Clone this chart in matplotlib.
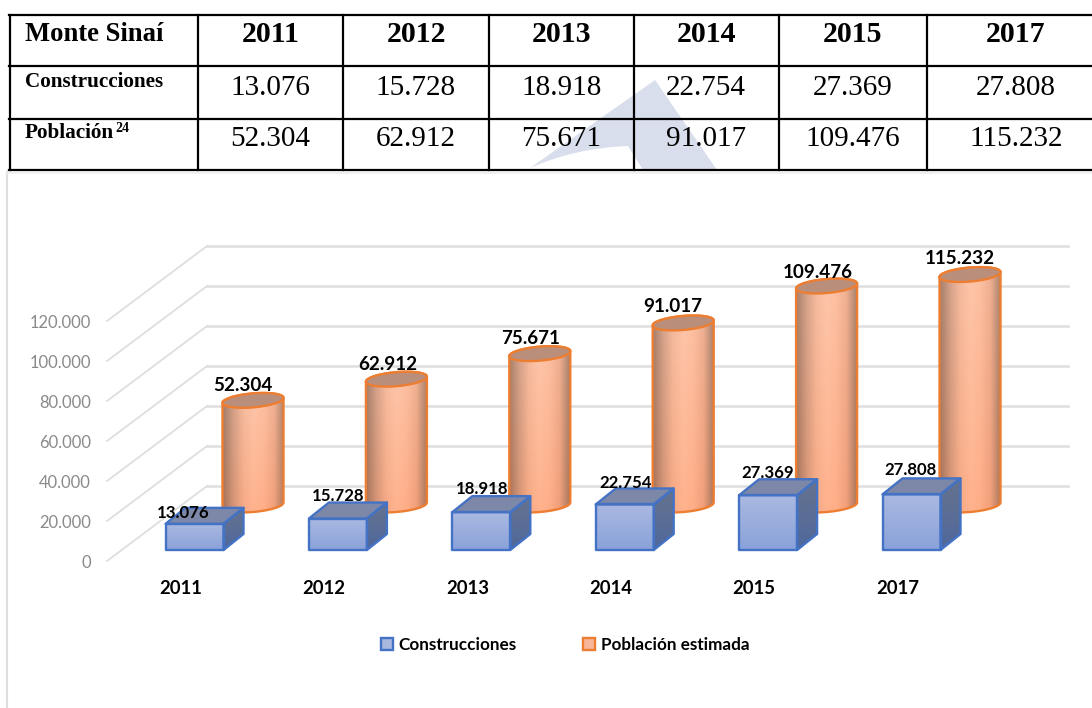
import numpy as np
import matplotlib
matplotlib.use('Agg')
import matplotlib.pyplot as plt
from matplotlib.patches import Polygon, Patch, PathPatch
from matplotlib.path import Path
from matplotlib.colors import LinearSegmentedColormap

# data
years = ['2011', '2012', '2013', '2014', '2015', '2017']
construcciones = [13076, 15728, 18918, 22754, 27369, 27808]
poblacion = [52304, 62912, 75671, 91017, 109476, 115232]
construcciones_txt = ['13.076', '15.728', '18.918', '22.754', '27.369', '27.808']
poblacion_txt = ['52.304', '62.912', '75.671', '91.017', '109.476', '115.232']
y_ticks = [0, 20000, 40000, 60000, 80000, 100000, 120000]
y_tick_labels = ['0', '20.000', '40.000', '60.000', '80.000', '100.000', '120.000']

# label nudges in pixels (x, y up)
box_label_nudge = [(-11, 11), (0, 23), (1, 23), (1, 21), (0, 22), (-1, 24)]
cyl_label_nudge = [(-10, 15), (-9, 15), (-9, 15), (-10, 16), (-9, 14), (-10, 16)]

W, H = 1092, 708
cat_px = 143.4      # pixels between categories
val_px = 0.002      # pixels per unit of value
x0_px = 194.5       # centre of the first box
y0_px = 561         # value 0 on the front of the floor

fig = plt.figure(figsize=(W / 100, H / 100), dpi=100, facecolor='white')

# chart axes: x is the category number, y is the value
ax = fig.add_axes([0, 0, 1, 1])
ax.axis('off')


def px_x(p):
    return p / cat_px


def px_y(p):
    return p / val_px


xlim = (-x0_px / cat_px, (W - x0_px) / cat_px)
ylim = (-(H - y0_px) / val_px, y0_px / val_px)

# walls
grid = '#dedede'
wall_left = px_x(107) + xlim[0]
wall_back = px_x(207) + xlim[0]
wall_right = px_x(1068) + xlim[0]
for t, lab in zip(y_ticks, y_tick_labels):
    ax.plot([wall_left, wall_back], [t, t + px_y(75)], color=grid, lw=1.3, zorder=1)
    ax.plot([wall_back, wall_right], [t + px_y(75), t + px_y(75)], color=grid, lw=1.8, zorder=1)
    ax.text(px_x(91) + xlim[0], t - px_y(2.5), lab, ha='right', va='center',
            fontsize=11.9, color='#8a8a8a', family='Lato')

# colours for the shaded faces
cyl_cmap = LinearSegmentedColormap.from_list(
    'cyl', ['#a5806c', '#d4a38c', '#f5bca0', '#fdc6ab', '#fcc0a3', '#eeb093', '#a8836f'])
front_cmap = LinearSegmentedColormap.from_list('front', ['#8aa2da', '#aab9e1'])
side_cmap = LinearSegmentedColormap.from_list('side', ['#4f689c', '#66738f'])


def clip_image(img, patch, extent, z, cmap=None):
    # gradient image clipped to a patch
    im = ax.imshow(img, cmap=cmap, extent=extent, origin='lower', aspect='auto',
                   interpolation='bilinear', zorder=z, vmin=0, vmax=1)
    patch.set_transform(ax.transData)
    im.set_clip_path(patch)


def cylinder(i, v):
    cx = i + px_x(58.5)
    base = px_y(56)
    a, b, tilt = px_x(30.5), px_y(7), px_y(2.5)
    z = 3 + i * 0.1
    t = np.linspace(0, 2 * np.pi, 91)
    top_x = cx + a * np.cos(t)
    top_y = base + v + b * np.sin(t) + tilt * np.cos(t)
    low = np.linspace(0, np.pi, 46)
    bot_x = cx + a * np.cos(low)
    bot_y = base - b * np.sin(low) + tilt * np.cos(low)
    # body goes along the lower edge and back over the top ellipse
    up = np.linspace(np.pi, 0, 46)
    body_x = np.r_[bot_x, cx + a * np.cos(up)]
    body_y = np.r_[bot_y, base + v + b * np.sin(up) + tilt * np.cos(up)]
    body = Polygon(np.c_[body_x, body_y], closed=True, facecolor='none',
                   edgecolor='#ed7d31', lw=1.7, zorder=z + 0.02, joinstyle='round')
    clip = Polygon(np.c_[body_x, body_y], closed=True)
    # side shading across, warmer towards the floor
    across = cyl_cmap(np.linspace(0, 1, 128))[:, :3]
    warm = np.linspace(1, 0, 64).reshape(-1, 1, 1)
    img = np.repeat(across[None, :, :], 64, axis=0)
    img = img * (1 - warm * np.array([-0.01, 0.10, 0.18]))
    clip_image(np.clip(img, 0, 1), clip, (cx - a, cx + a, base - 2 * b, base + v + 2 * b), z)
    ax.add_patch(body)
    ax.add_patch(Polygon(np.c_[top_x, top_y], closed=True, facecolor='#b98f7c',
                         edgecolor='#ed7d31', lw=1.7, zorder=z + 0.03))


def box(i, v):
    w = px_x(29)
    floor = px_y(11)
    dx, dy = px_x(20), px_y(16)
    z = 5 + i * 0.1
    top = floor + v
    front = [(i - w, floor), (i + w, floor), (i + w, top), (i - w, top)]
    side = [(i + w, floor), (i + w + dx, floor + dy), (i + w + dx, top + dy), (i + w, top)]
    lid = [(i - w, top), (i + w, top), (i + w + dx, top + dy), (i - w + dx, top + dy)]
    ramp = np.linspace(0, 1, 64).reshape(-1, 1)
    clip_image(ramp, Polygon(front, closed=True), (i - w, i + w, floor, top), z, front_cmap)
    clip_image(ramp, Polygon(side, closed=True), (i + w, i + w + dx, floor, top + dy), z, side_cmap)
    ax.add_patch(Polygon(lid, closed=True, facecolor='#7d88a8', edgecolor='none', zorder=z))
    for pts in (front, side, lid):
        ax.add_patch(Polygon(pts, closed=True, facecolor='none', edgecolor='#4472c4',
                             lw=1.7, zorder=z + 0.02, joinstyle='round'))


for i in range(len(years)):
    cylinder(i, poblacion[i])
for i in range(len(years)):
    box(i, construcciones[i])

# data labels
for i in range(len(years)):
    nx, ny = box_label_nudge[i]
    ax.text(i + px_x(nx), px_y(11) + construcciones[i] + px_y(ny), construcciones_txt[i],
            ha='center', va='center', fontsize=12.1, fontweight='bold', family='Lato',
            color='black', zorder=10)
    nx, ny = cyl_label_nudge[i]
    ax.text(i + px_x(58.5 + nx), px_y(56) + poblacion[i] + px_y(ny), poblacion_txt[i],
            ha='center', va='center', fontsize=13.6, fontweight='bold', family='Lato',
            color='black', zorder=10)
    # category labels
    ax.text(i - px_x(14), -px_y(27), years[i], ha='center', va='center', fontsize=13.3,
            fontweight='bold', family='Lato', color='black', zorder=10)

ax.set_xlim(xlim)
ax.set_ylim(ylim)

handles = [Patch(facecolor='#a9b8de', edgecolor='#4472c4', lw=1.7, label='Construcciones'),
           Patch(facecolor='#f8b79b', edgecolor='#ed7d31', lw=1.7, label='Población estimada')]
fig.legend(handles=handles, loc='center', bbox_to_anchor=(565 / W, 1 - 645 / H), ncol=2,
           frameon=False, handlelength=0.72, handleheight=0.72, handletextpad=0.3,
           columnspacing=3.9, prop={'family': 'Lato', 'weight': 'bold', 'size': 12.3})

# table and page layer in pixel coordinates
tb = fig.add_axes([0, 0, 1, 1])
tb.set_xlim(0, W)
tb.set_ylim(H, 0)
tb.axis('off')
tb.patch.set_alpha(0)

# watermark behind the table
wm = Path([(655, 80), (530, 168), (575, 148), (628, 146), (643, 170), (717, 170), (655, 80)],
          [Path.MOVETO, Path.LINETO, Path.CURVE3, Path.CURVE3, Path.LINETO, Path.LINETO, Path.CLOSEPOLY])
tb.add_patch(PathPatch(wm, facecolor='#d9deec', edgecolor='none', zorder=1))

# chart frame
tb.plot([7.3, 7.3], [172, H], color='#dedede', lw=1.5, zorder=1)
tb.plot([7.3, W], [172.5, 172.5], color='#eeeeee', lw=1.2, zorder=1)

col_x = [9.7, 197.7, 343.3, 489, 634, 779, 926.7]
text_x = [270.5, 416, 561.5, 706, 853, 1016]
row_y = [15, 66, 118.7, 170]
for y in row_y:
    tb.plot([col_x[0] - 1, W], [y, y], color='black', lw=1.6, zorder=3)
for x in col_x:
    tb.plot([x, x], [row_y[0], row_y[-1]], color='black', lw=1.6, zorder=3)

serif = 'Liberation Serif'
tb.text(25, 40.7, 'Monte Sinaí', ha='left', va='baseline', fontsize=19.2, fontweight='bold', family=serif)
tb.text(25, 87.3, 'Construcciones', ha='left', va='baseline', fontsize=15.2, fontweight='bold', family=serif)
tb.text(25, 138.3, 'Población', ha='left', va='baseline', fontsize=15.2, fontweight='bold', family=serif)
tb.text(115, 132, '24', ha='left', va='baseline', fontsize=10, fontweight='bold', family=serif)
for i in range(len(years)):
    tb.text(text_x[i], 41.7, years[i], ha='center', va='baseline', fontsize=21.5, fontweight='bold', family=serif)
    tb.text(text_x[i], 95, construcciones_txt[i], ha='center', va='baseline', fontsize=21, family=serif)
    tb.text(text_x[i], 146, poblacion_txt[i], ha='center', va='baseline', fontsize=21, family=serif)

fig.savefig('out.png', dpi=100)
